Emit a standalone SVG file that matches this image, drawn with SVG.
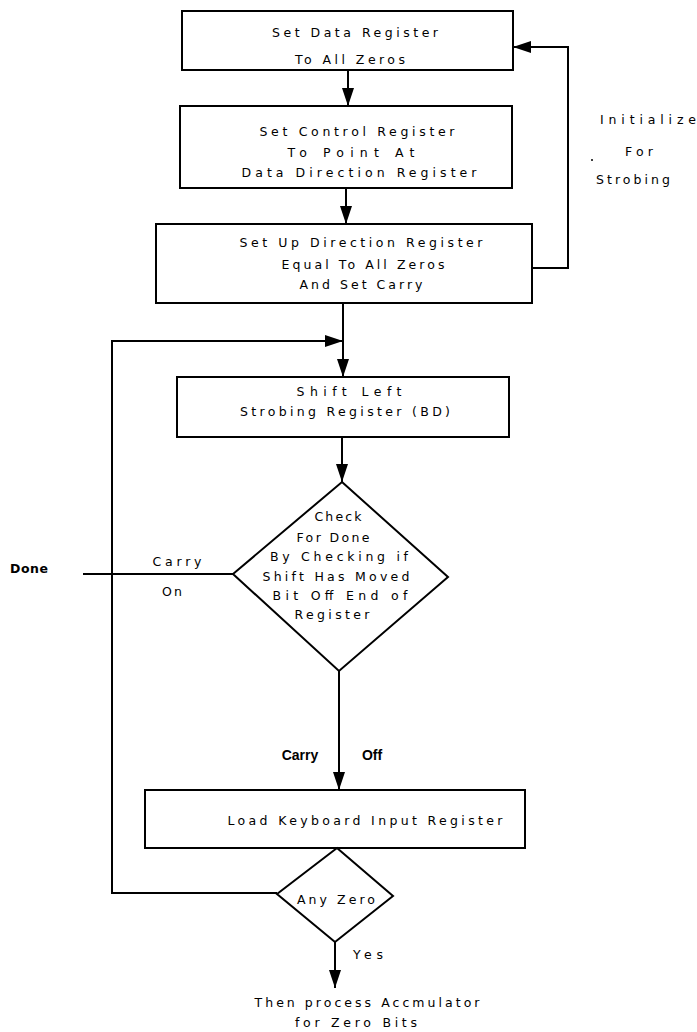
<svg xmlns="http://www.w3.org/2000/svg" width="697" height="1032" viewBox="0 0 697 1032">
<style>
.box{fill:#fff;stroke:#000;stroke-width:2}
.ln{fill:none;stroke:#000;stroke-width:2}
.t{font-family:"DejaVu Sans","Liberation Sans",Arial,sans-serif;font-size:12.5px;fill:#000;text-anchor:middle}
.b{font-family:"Liberation Sans",Arial,sans-serif;font-size:14px;font-weight:bold;fill:#000;text-anchor:middle}
</style>
<defs>
<marker id="ah" markerUnits="userSpaceOnUse" markerWidth="19" markerHeight="14" refX="18" refY="6" orient="auto">
<path d="M0,0 L18,6 L0,12 z" fill="#000"/>
</marker>
</defs>
<rect width="697" height="1032" fill="#fff"/>
<g id="connectors">
<line class="ln" x1="348" y1="70" x2="348" y2="106" marker-end="url(#ah)"/>
<line class="ln" x1="346" y1="188" x2="346" y2="224" marker-end="url(#ah)"/>
<polyline class="ln" points="532,268 568,268 568,47 513,47" marker-end="url(#ah)"/>
<line class="ln" x1="343" y1="303" x2="343" y2="377" marker-end="url(#ah)"/>
<polyline class="ln" points="277,893 112,893 112,341 343,341" marker-end="url(#ah)"/>
<line class="ln" x1="342" y1="437" x2="342" y2="482" marker-end="url(#ah)"/>
<line class="ln" x1="233" y1="574" x2="83" y2="574"/>
<line class="ln" x1="339" y1="671" x2="339" y2="790" marker-end="url(#ah)"/>
<line class="ln" x1="335" y1="942" x2="335" y2="988" marker-end="url(#ah)"/>
</g>
<g id="n1">
<rect class="box" x="182" y="11" width="331" height="59"/>
<text class="t" x="355" y="37" textLength="166" lengthAdjust="spacing">Set Data Register</text>
<text class="t" x="350" y="64" textLength="110" lengthAdjust="spacing">To All Zeros</text>
</g>
<g id="n2">
<rect class="box" x="180" y="106" width="332" height="82"/>
<text class="t" x="357" y="136" textLength="195" lengthAdjust="spacing">Set Control Register</text>
<text class="t" x="351" y="157" textLength="127" lengthAdjust="spacing">To Point At</text>
<text class="t" x="359" y="177" textLength="235" lengthAdjust="spacing">Data Direction Register</text>
</g>
<g id="n3">
<rect class="box" x="156" y="224" width="376" height="79"/>
<text class="t" x="361" y="247" textLength="243" lengthAdjust="spacing">Set Up Direction Register</text>
<text class="t" x="363" y="269" textLength="163" lengthAdjust="spacing">Equal To All Zeros</text>
<text class="t" x="361" y="289" textLength="123" lengthAdjust="spacing">And Set Carry</text>
</g>
<g id="initialize-label">
<text class="t" x="648" y="124" textLength="96" lengthAdjust="spacing">Initialize</text>
<text class="t" x="639" y="156" textLength="28" lengthAdjust="spacing">For</text>
<text class="t" x="633" y="184" textLength="74" lengthAdjust="spacing">Strobing</text>
<circle cx="592" cy="160" r="1" fill="#000"/>
</g>
<g id="n4">
<rect class="box" x="177" y="377" width="332" height="60"/>
<text class="t" x="349" y="396" textLength="105" lengthAdjust="spacing">Shift Left</text>
<text class="t" x="345" y="416" textLength="210" lengthAdjust="spacing">Strobing Register (BD)</text>
</g>
<g id="d1">
<polygon class="box" points="342,482 448,577 339,671 233,574"/>
<text class="t" x="338" y="521" textLength="47" lengthAdjust="spacing">Check</text>
<text class="t" x="333" y="542" textLength="73" lengthAdjust="spacing">For Done</text>
<text class="t" x="339" y="561" textLength="138" lengthAdjust="spacing">By Checking if</text>
<text class="t" x="336" y="581" textLength="147" lengthAdjust="spacing">Shift Has Moved</text>
<text class="t" x="340" y="600" textLength="135" lengthAdjust="spacing">Bit Off End of</text>
<text class="t" x="332" y="619" textLength="75" lengthAdjust="spacing">Register</text>
</g>
<g id="done-labels">
<text class="t" x="29" y="573" textLength="38" lengthAdjust="spacing" font-weight="bold">Done</text>
<text class="t" x="177" y="566" textLength="49" lengthAdjust="spacing">Carry</text>
<text class="t" x="172" y="596" textLength="20" lengthAdjust="spacing">On</text>
</g>
<g id="carry-off-labels">
<text class="b" x="300" y="760">Carry</text>
<text class="b" x="372" y="760">Off</text>
</g>
<g id="n5">
<rect class="box" x="145" y="790" width="380" height="58"/>
<text class="t" x="365" y="825" textLength="275" lengthAdjust="spacing">Load Keyboard Input Register</text>
</g>
<g id="d2">
<polygon class="box" points="337,848 393,896 335,942 277,894"/>
<text class="t" x="336" y="904" textLength="78" lengthAdjust="spacing">Any Zero</text>
</g>
<g id="end">
<text class="t" x="368" y="959" textLength="30" lengthAdjust="spacing">Yes</text>
<text class="t" x="367" y="1007" textLength="225" lengthAdjust="spacing">Then process Accmulator</text>
<text class="t" x="356" y="1027" textLength="122" lengthAdjust="spacing">for Zero Bits</text>
</g>
</svg>
